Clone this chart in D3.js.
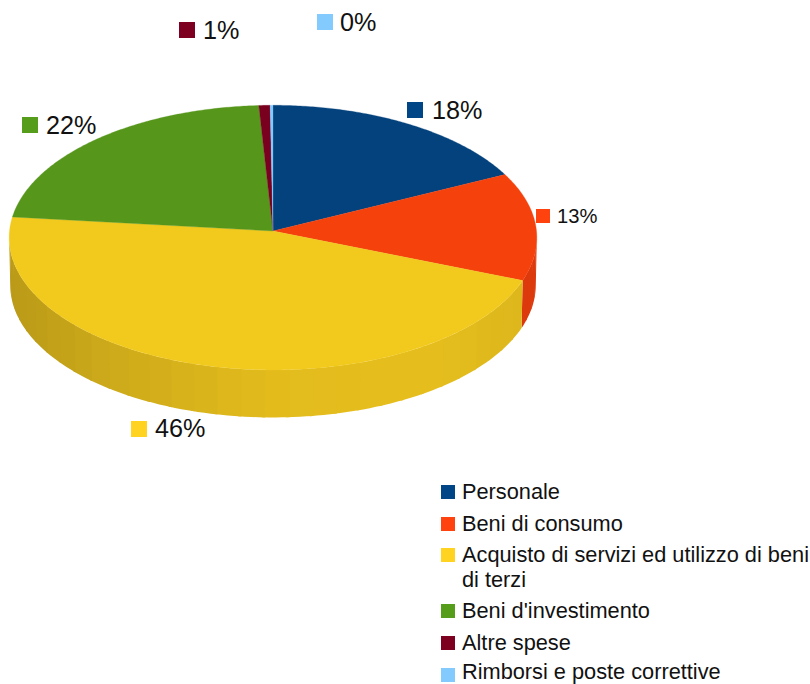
<!DOCTYPE html>
<html><head><meta charset="utf-8">
<script src="https://cdn.jsdelivr.net/npm/d3@7"></script>
<style>html,body{margin:0;padding:0;background:#fff}svg{display:block}text{font-family:"Liberation Sans",Arial,sans-serif;fill:#111}</style>
</head><body><svg id="c" width="810" height="684"></svg>
<script>
const categories = ["Personale","Beni di consumo","Acquisto di servizi ed utilizzo di beni|di terzi","Beni d'investimento","Altre spese","Rimborsi e poste correttive"];
const values = [17.8,13.2,45.7,22.4,0.72,0.18];
const percentLabels = ["18%","13%","46%","22%","1%","0%"];
const legendColors = ["#004586","#ff420e","#ffd320","#579d1c","#7e0021","#83caff"];
const topColors = ["#03427c","#f5410c","#f2ca1e","#56961b","#7a0020","#83caff"];

const labelAnchors = [[407,102,16,432,119,25.2],[536,209,14,557,223,20.2],[131,421,16,155,437,25.2],[22,117,16,46,134,25.2],[179,22,16,203,39,25.2],[317,14,16,340,31,25.2]];
const legendRows = [492,524,555,611,643,675];

const svg = d3.select("#c");
const cx=273, cy=231, rx=263.5, ryScale=132, persp=0.05, depth=47.5;
const sx = d3.scaleLinear().domain([-1,1]).range([cx-rx,cx+rx]);
const sy = d3.scaleLinear().domain([-1,1]).range([cy+ryScale,cy-ryScale]);
const pie = d3.pie().sort(null).value(d=>d)(values);
function proj(a,drop){
  const u=Math.sin(a), v=Math.cos(a), w=1+persp*v;
  const k = drop?0.996:1;
  return [cx+(sx(u/w)-cx)*k, sy(v/w)+(drop?depth:0)];
}
const line = d3.line();
const shade = d3.scaleLinear().domain([9,100,273,430,537]).range([0.73,0.80,0.89,0.90,0.86]);
const vis0 = 92.8*Math.PI/180, vis1 = 267.2*Math.PI/180, step = 5*Math.PI/180;

// side wall, banded
const wall = svg.append("g");
pie.forEach((s,i)=>{
  const a0=Math.max(s.startAngle,vis0), a1=Math.min(s.endAngle,vis1);
  if(a1<=a0) return;
  const base=d3.rgb(legendColors[i]);
  for(let a=a0;a<a1;a+=step){
    const b=Math.min(a+step+0.012,a1);
    const pts=[];
    for(const t of d3.range(0,1.01,0.25)) pts.push(proj(a+(b-a)*t,false));
    for(const t of d3.range(1,-0.01,-0.25)) pts.push(proj(a+(b-a)*t,true));
    const f=shade(proj((a+b)/2,false)[0]);
    const col=d3.rgb(base.r*f,base.g*f,base.b*f);
    wall.append("path").attr("d",line(pts)+"Z").attr("fill",col);
  }
});
// top face
const topFace = svg.append("g");
pie.forEach((s,i)=>{
  const n=Math.max(2,Math.ceil((s.endAngle-s.startAngle)/0.01));
  const pts=[[cx,cy]];
  for(let k=0;k<=n;k++) pts.push(proj(s.startAngle+(s.endAngle-s.startAngle)*k/n,false));
  topFace.append("path").attr("d",line(pts)+"Z").attr("fill",topColors[i]).attr("stroke",topColors[i]).attr("stroke-width",0.3);
});
// data labels
percentLabels.forEach((t,i)=>{
  const [qx,qy,qs,tx,ty,fs]=labelAnchors[i];
  svg.append("rect").attr("x",qx).attr("y",qy).attr("width",qs).attr("height",qs).attr("fill",legendColors[i]);
  svg.append("text").attr("x",tx).attr("y",ty).attr("font-size",fs).text(t);
});
// legend
categories.forEach((c,i)=>{
  const y=legendRows[i];
  svg.append("rect").attr("x",441).attr("y",y-7).attr("width",14).attr("height",14).attr("fill",legendColors[i]);
  c.split("|").forEach((part,j)=>{
    svg.append("text").attr("x",462).attr("y",Math.min(y+7+j*25,679)).attr("font-size",21.75).text(part);
  });
});
</script></body></html>
